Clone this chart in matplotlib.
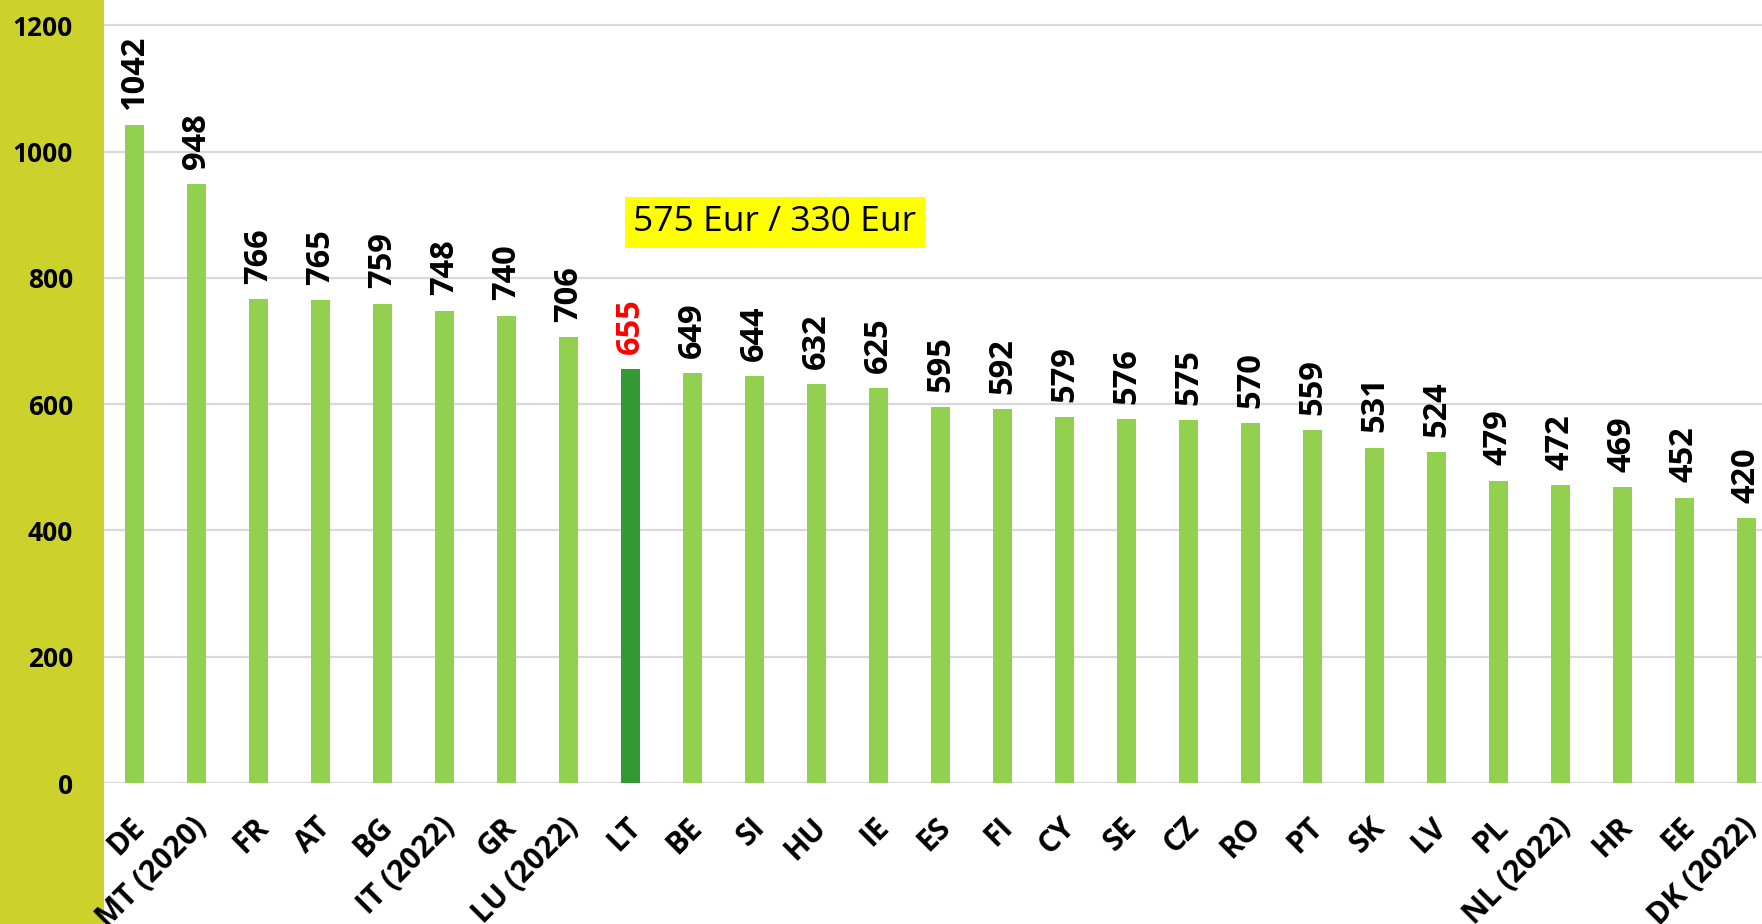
import matplotlib
matplotlib.use("Agg")
import matplotlib.pyplot as plt
from matplotlib.transforms import ScaledTranslation
from matplotlib.patches import Rectangle

countries = ["DE", "MT (2020)", "FR", "AT", "BG", "IT (2022)", "GR", "LU (2022)", "LT",
             "BE", "SI", "HU", "IE", "ES", "FI", "CY", "SE", "CZ", "RO", "PT", "SK", "LV",
             "PL", "NL (2022)", "HR", "EE", "DK (2022)"]
values = [1042, 948, 766, 765, 759, 748, 740, 706, 655, 649, 644, 632, 625, 595, 592,
          579, 576, 575, 570, 559, 531, 524, 479, 472, 469, 452, 420]
highlight = "LT"
yticks = [0, 200, 400, 600, 800, 1000, 1200]
note_text = "575 Eur / 330 Eur"

plt.rcParams['font.family'] = ['Open Sans', 'DejaVu Sans']

W, H, DPI = 1762, 924, 100
fig = plt.figure(figsize=(W / DPI, H / DPI), dpi=DPI)
fig.patch.set_facecolor("white")
# left coloured band
fig.patches.append(Rectangle((0, 0), 104 / W, 1, transform=fig.transFigure,
                             facecolor="#CDD12B", edgecolor="none", zorder=0))

ax = fig.add_axes([103.5 / W, (H - 783) / H, 1 - 103.5 / W, 783 / H])
ax.set_facecolor("white")
ax.set_zorder(1)

xs = list(range(len(countries)))
colors = ["#339933" if c == highlight else "#92D050" for c in countries]
ax.bar(xs, values, width=0.31, color=colors, zorder=2)

for x, v, c in zip(xs, values, countries):
    ax.annotate(str(v), (x, v), xytext=(0, 11), textcoords="offset points",
                rotation=90, ha="center", va="bottom", fontsize=23.5, fontweight="bold",
                color="#FF0000" if c == highlight else "black")

ax.set_xlim(-0.5, (W - 134.5) / 62)
ax.set_ylim(0, 1240)
ax.set_yticks(yticks)
ax.set_yticklabels([str(t) for t in yticks], fontsize=19, fontweight="bold")
ax.tick_params(axis="y", length=0, pad=22)
ax.grid(axis="y", color="#D9D9D9", linewidth=1.6, zorder=0)
ax.set_axisbelow(True)
for s in ax.spines.values():
    s.set_visible(False)

ax.set_xticks(xs)
ax.set_xticklabels(countries, rotation=45, ha="right", va="top",
                   rotation_mode="anchor", fontsize=21.5, fontweight="bold")
ax.tick_params(axis="x", length=0, pad=21)
off = ScaledTranslation(-5 / DPI, 0, fig.dpi_scale_trans)
for lab in ax.get_xticklabels():
    lab.set_transform(lab.get_transform() + off)

ax.text(10.33, 888, note_text, ha="center", va="center", fontsize=25.5, color="black",
        bbox=dict(boxstyle="square,pad=0.24", facecolor="#FFFF00", edgecolor="none"),
        zorder=5)

fig.savefig("out.png", dpi=DPI)
